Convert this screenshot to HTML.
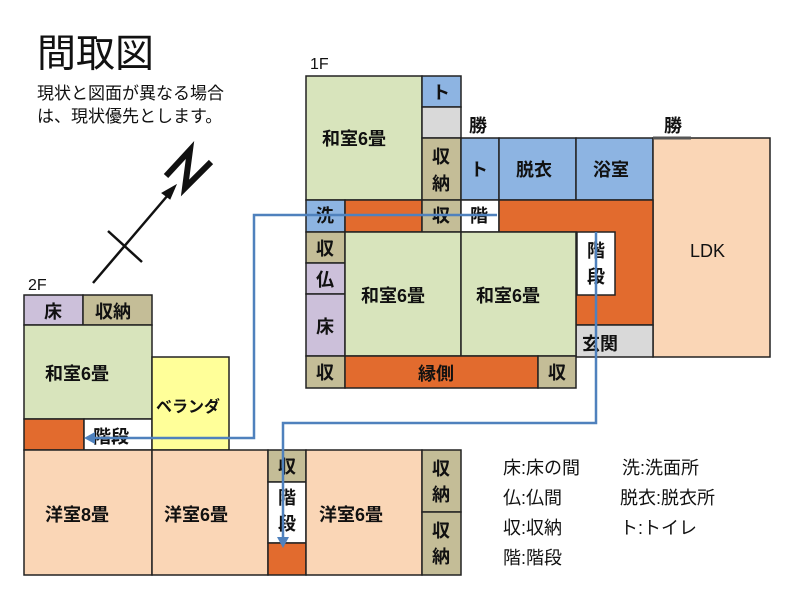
<!DOCTYPE html>
<html><head><meta charset="utf-8"><style>
body{margin:0;background:#fff}
svg text{font-family:"Liberation Sans","Noto Sans CJK JP",sans-serif;fill:#111}
.b{font-weight:bold;font-size:18px}
</style></head><body>
<svg width="800" height="601" viewBox="0 0 800 601" xmlns="http://www.w3.org/2000/svg">
<text x="37" y="67" font-size="39">間取図</text>
<text x="37" y="99" font-size="17">現状と図面が異なる場合</text>
<text x="37" y="122" font-size="17">は、現状優先とします。</text>
<g stroke="#111" fill="none">
<line x1="93" y1="283" x2="174" y2="188" stroke-width="2.5"/>
<polygon points="176,185 162,193 170,199" fill="#111"/>
<line x1="108" y1="231" x2="142" y2="262" stroke-width="2.5"/>
<polyline points="166,176 190,150 185,188 211,162" stroke-width="6"/>
</g>
<text x="310" y="69" font-size="16">1F</text>
<text x="28" y="290" font-size="16">2F</text>
<g stroke="#222" stroke-width="1.5">
<rect x="306" y="76" width="116" height="124" fill="#d8e4bc"/>
<rect x="422" y="76" width="39" height="31" fill="#8db4e2"/>
<rect x="422" y="107" width="39" height="31" fill="#d9d9d9"/>
<rect x="422" y="138" width="39" height="62" fill="#c4bd97"/>
<rect x="461" y="138" width="38" height="62" fill="#8db4e2"/>
<rect x="499" y="138" width="77" height="62" fill="#8db4e2"/>
<rect x="576" y="138" width="77" height="62" fill="#8db4e2"/>
<rect x="653" y="138" width="117" height="219" fill="#fad6b6"/>
<rect x="306" y="200" width="39" height="32" fill="#8db4e2"/>
<rect x="345" y="200" width="77" height="32" fill="#e26b2e"/>
<rect x="422" y="200" width="39" height="32" fill="#c4bd97"/>
<rect x="461" y="200" width="38" height="32" fill="#fff"/>
<polygon points="499,200 653,200 653,325 576,325 576,232 499,232" fill="#e26b2e"/>
<rect x="577" y="232" width="38" height="63" fill="#fff"/>
<rect x="576" y="325" width="77" height="32" fill="#d9d9d9"/>
<rect x="306" y="232" width="39" height="31" fill="#c4bd97"/>
<rect x="306" y="263" width="39" height="31" fill="#ccc0da"/>
<rect x="306" y="294" width="39" height="62" fill="#ccc0da"/>
<rect x="345" y="232" width="116" height="124" fill="#d8e4bc"/>
<rect x="461" y="232" width="115" height="124" fill="#d8e4bc"/>
<rect x="306" y="356" width="39" height="32" fill="#c4bd97"/>
<rect x="345" y="356" width="193" height="32" fill="#e26b2e"/>
<rect x="538" y="356" width="38" height="32" fill="#c4bd97"/>
<rect x="24" y="295" width="59" height="30" fill="#ccc0da"/>
<rect x="83" y="295" width="69" height="30" fill="#c4bd97"/>
<rect x="24" y="325" width="128" height="94" fill="#d8e4bc"/>
<rect x="24" y="419" width="60" height="31" fill="#e26b2e"/>
<rect x="84" y="419" width="68" height="31" fill="#fff"/>
<rect x="152" y="357" width="77" height="93" fill="#ffff99"/>
<rect x="24" y="450" width="128" height="125" fill="#fad6b6"/>
<rect x="152" y="450" width="116" height="125" fill="#fad6b6"/>
<rect x="268" y="450" width="38" height="32" fill="#c4bd97"/>
<rect x="268" y="482" width="38" height="61" fill="#fff"/>
<rect x="268" y="543" width="38" height="32" fill="#e26b2e"/>
<rect x="306" y="450" width="116" height="125" fill="#fad6b6"/>
<rect x="422" y="450" width="39" height="62" fill="#c4bd97"/>
<rect x="422" y="512" width="39" height="63" fill="#c4bd97"/>
</g>
<line x1="653" y1="138" x2="691" y2="138" stroke="#555" stroke-width="3"/>
<g>
<text x="322" y="145" class="b">和室6畳</text>
<text x="432" y="99" class="b">ト</text>
<text x="432" y="163" class="b">収</text><text x="432" y="190" class="b">納</text>
<text x="470" y="176" class="b">ト</text>
<text x="516" y="176" class="b">脱衣</text>
<text x="593" y="176" class="b">浴室</text>
<text x="469" y="132" class="b">勝</text>
<text x="664" y="132" class="b">勝</text>
<text x="690" y="257" font-size="18">LDK</text>
<text x="316" y="222" class="b">洗</text>
<text x="432" y="222" class="b">収</text>
<text x="470" y="222" class="b">階</text>
<text x="587" y="257" class="b">階</text><text x="587" y="283" class="b">段</text>
<text x="316" y="255" class="b">収</text>
<text x="316" y="286" class="b">仏</text>
<text x="316" y="333" class="b">床</text>
<text x="361" y="302" class="b">和室6畳</text>
<text x="476" y="302" class="b">和室6畳</text>
<text x="582" y="350" class="b">玄関</text>
<text x="316" y="379" class="b">収</text>
<text x="418" y="380" class="b">縁側</text>
<text x="548" y="379" class="b">収</text>
<text x="44" y="318" class="b">床</text>
<text x="95" y="318" class="b">収納</text>
<text x="45" y="380" class="b">和室6畳</text>
<text x="93" y="443" class="b">階段</text>
<text x="156" y="412" font-size="16" font-weight="bold">ベランダ</text>
<text x="45" y="521" class="b">洋室8畳</text>
<text x="164" y="521" class="b">洋室6畳</text>
<text x="278" y="473" class="b">収</text>
<text x="278" y="504" class="b">階</text><text x="278" y="530" class="b">段</text>
<text x="319" y="521" class="b">洋室6畳</text>
<text x="432" y="475" class="b">収</text><text x="432" y="501" class="b">納</text>
<text x="432" y="537" class="b">収</text><text x="432" y="563" class="b">納</text>
</g>
<g stroke="#4f81bd" stroke-width="2.5" fill="none">
<polyline points="497,215 254,215 254,438 92,438"/>
<polyline points="596,232 596,423 283,423 283,540"/>
</g>
<polygon points="84,438 95,432 95,444" fill="#4f81bd"/>
<polygon points="283,548 277,537 289,537" fill="#4f81bd"/>
<g font-size="18">
<text x="503" y="474">床:床の間</text><text x="622" y="474">洗:洗面所</text>
<text x="503" y="504">仏:仏間</text><text x="620" y="504">脱衣:脱衣所</text>
<text x="503" y="534">収:収納</text><text x="620" y="534">ト:トイレ</text>
<text x="503" y="564">階:階段</text>
</g>
</svg>
</body></html>
